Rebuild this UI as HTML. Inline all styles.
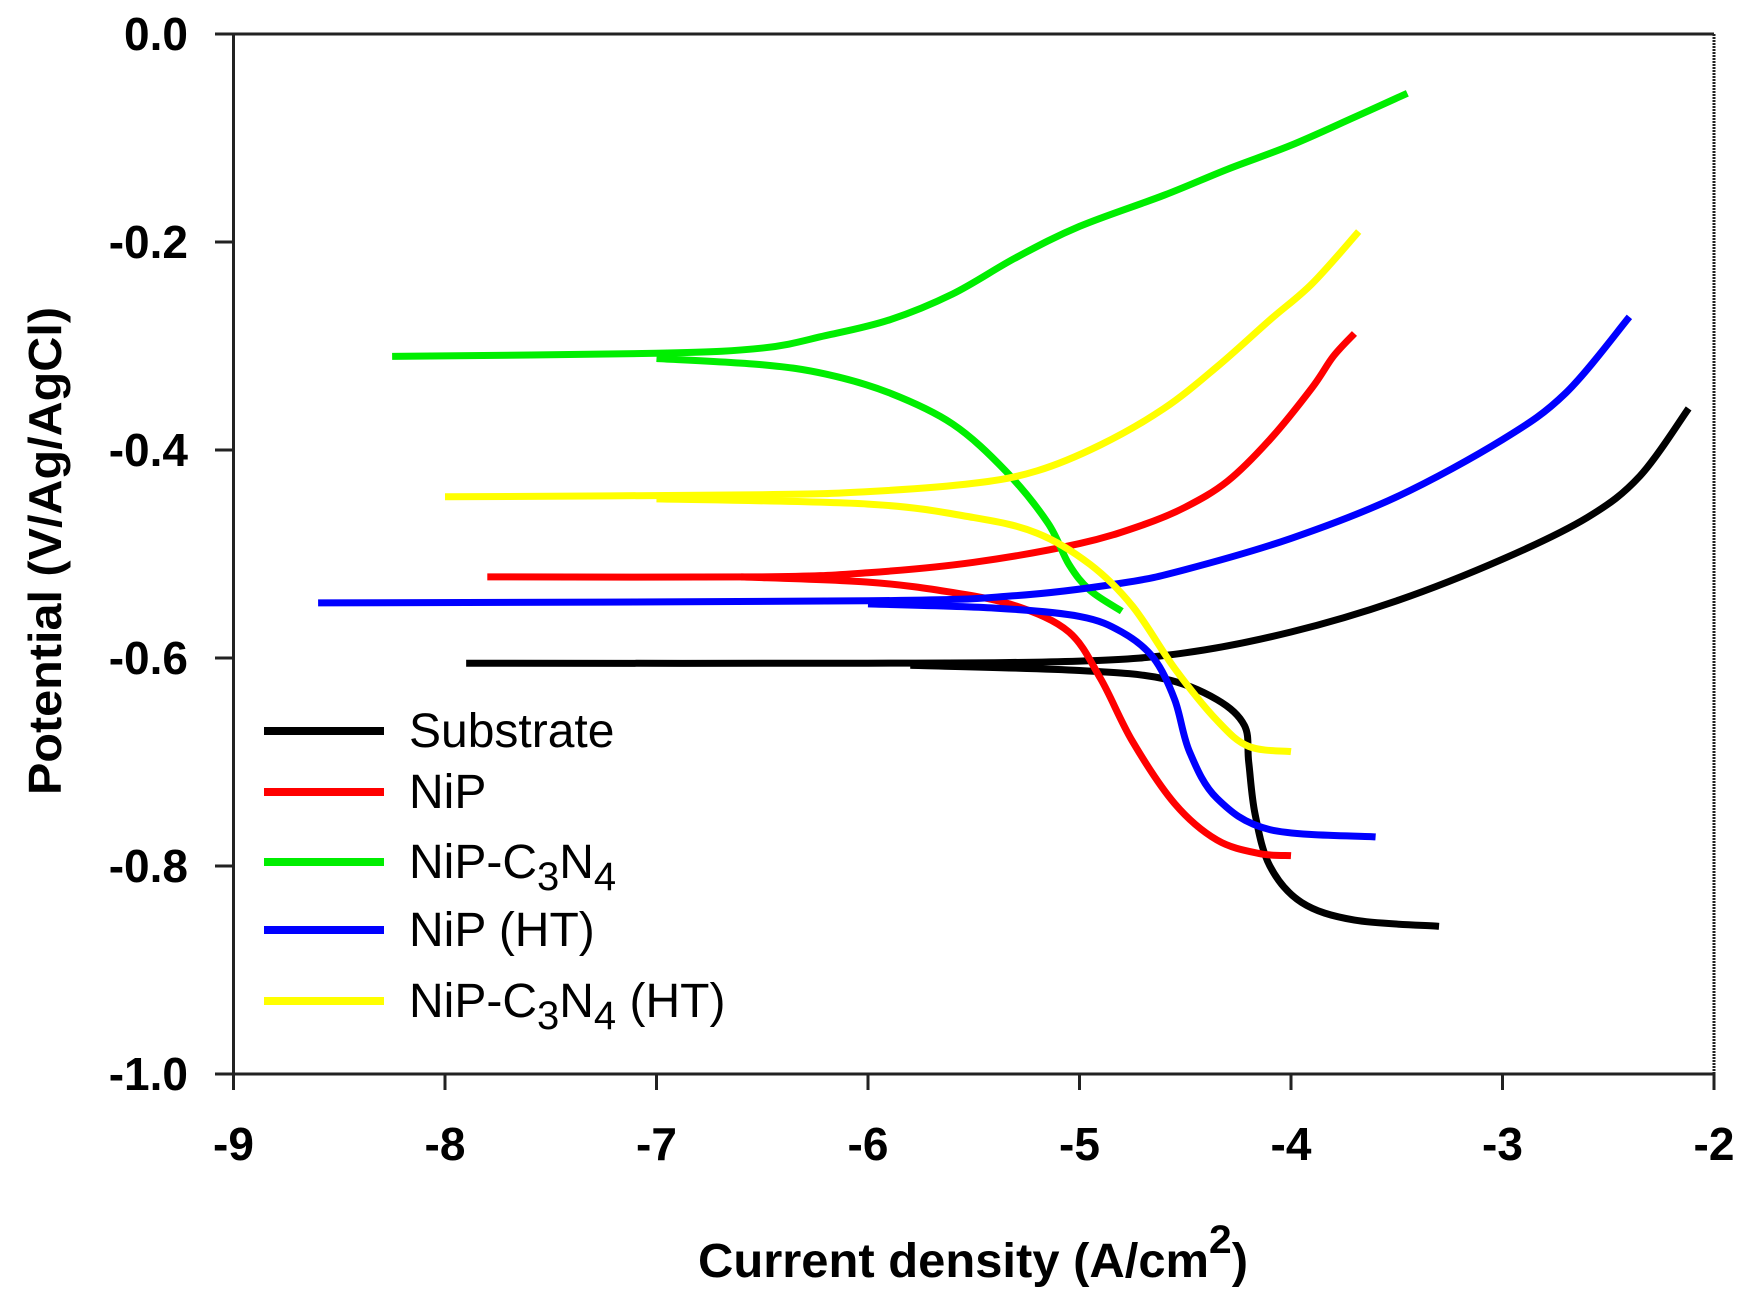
<!DOCTYPE html>
<html><head><meta charset="utf-8"><style>
html,body{margin:0;padding:0;background:#fff;}
svg{display:block;}
text{font-family:"Liberation Sans",Arial,sans-serif;}
</style></head><body>
<svg id="s" width="1755" height="1300" viewBox="0 0 1755 1300" xmlns="http://www.w3.org/2000/svg">
<rect width="1755" height="1300" fill="#fff"/>
<g id="curves" fill="none" stroke-width="7" stroke-linejoin="round" stroke-linecap="butt"></g>
<g stroke="#222" stroke-width="3" fill="none">
<line x1="233.5" y1="34" x2="1714" y2="34"/>
<line x1="233.5" y1="34" x2="233.5" y2="1074"/>
<line x1="233.5" y1="1074" x2="1714" y2="1074"/>
<line x1="1714" y1="34" x2="1714" y2="1074" stroke-dasharray="2 1"/>
</g>
<g id="ticks" stroke="#222" stroke-width="3"></g>
<g id="labels" font-weight="bold" font-size="46" fill="#000"></g>
<g stroke-width="8">
<line x1="264" y1="731" x2="384" y2="731" stroke="#000"/>
<line x1="264" y1="792" x2="384" y2="792" stroke="#ff0000"/>
<line x1="264" y1="862" x2="384" y2="862" stroke="#00ee00"/>
<line x1="264" y1="930" x2="384" y2="930" stroke="#0000ff"/>
<line x1="264" y1="1001" x2="384" y2="1001" stroke="#ffff00"/>
</g>
<g font-size="48" fill="#000">
<text x="409" y="747">Substrate</text>
<text x="409" y="808">NiP</text>
<text x="409" y="878">NiP-C<tspan font-size="40" dy="12">3</tspan><tspan dy="-12">N</tspan><tspan font-size="40" dy="12">4</tspan></text>
<text x="409" y="946">NiP (HT)</text>
<text x="409" y="1017">NiP-C<tspan font-size="40" dy="12">3</tspan><tspan dy="-12">N</tspan><tspan font-size="40" dy="12">4</tspan><tspan dy="-12"> (HT)</tspan></text>
</g>
<text x="973" y="1277" text-anchor="middle" font-weight="bold" font-size="48" textLength="550" lengthAdjust="spacingAndGlyphs">Current density (A/cm<tspan dy="-24" font-size="40">2</tspan><tspan dy="24">)</tspan></text>
<text transform="translate(61,551) rotate(-90)" text-anchor="middle" font-weight="bold" font-size="46" textLength="488" lengthAdjust="spacingAndGlyphs">Potential (V/Ag/AgCl)</text>
</svg>
<script>
var X=v=>233.5+(v+9)*211.5, Y=p=>34+(-p)*1040;
var S={
"#000":[[[-7.9,-.605],[-6,-.605],[-5,-.603],[-4.5,-.595],[-4,-.575],[-3.5,-.545],[-3,-.505],[-2.6,-.465],[-2.35,-.425],[-2.12,-.36]],
 [[-5.8,-.607],[-5,-.612],[-4.6,-.62],[-4.35,-.64],[-4.22,-.665],[-4.2,-.7],[-4.17,-.75],[-4.1,-.8],[-3.95,-.835],[-3.7,-.852],[-3.3,-.858]]],
"#ff0000":[[[-7.8,-.522],[-6.5,-.522],[-6,-.518],[-5.5,-.508],[-5,-.49],[-4.7,-.472],[-4.5,-.455],[-4.3,-.43],[-4.1,-.39],[-3.9,-.34],[-3.8,-.31],[-3.7,-.288]],
 [[-6.6,-.522],[-6,-.527],[-5.6,-.537],[-5.3,-.55],[-5.05,-.575],[-4.9,-.62],[-4.75,-.68],[-4.55,-.74],[-4.35,-.775],[-4.15,-.788],[-4,-.79]]],
"#00ee00":[[[-8.25,-.31],[-7,-.307],[-6.5,-.302],[-6.2,-.29],[-5.9,-.275],[-5.6,-.25],[-5.3,-.215],[-5,-.185],[-4.6,-.155],[-4.3,-.13],[-4,-.107],[-3.7,-.08],[-3.45,-.057]],
 [[-7,-.312],[-6.5,-.318],[-6.2,-.327],[-5.9,-.345],[-5.6,-.375],[-5.35,-.42],[-5.15,-.47],[-5.05,-.51],[-4.95,-.535],[-4.8,-.555]]],
"#0000ff":[[[-8.6,-.547],[-6,-.545],[-5.3,-.54],[-4.8,-.528],[-4.5,-.515],[-4,-.485],[-3.5,-.445],[-3,-.39],[-2.7,-.345],[-2.4,-.272]],
 [[-6,-.548],[-5.4,-.552],[-5,-.56],[-4.8,-.575],[-4.65,-.6],[-4.55,-.64],[-4.48,-.69],[-4.35,-.735],[-4.1,-.765],[-3.6,-.772]]],
"#ffff00":[[[-8,-.445],[-6.5,-.443],[-6,-.44],[-5.5,-.432],[-5.2,-.42],[-4.9,-.395],[-4.6,-.36],[-4.35,-.32],[-4.1,-.275],[-3.9,-.24],[-3.68,-.19]],
 [[-7,-.447],[-6,-.452],[-5.5,-.465],[-5.2,-.48],[-4.95,-.51],[-4.75,-.55],[-4.55,-.61],[-4.35,-.66],[-4.2,-.685],[-4,-.69]]]
};
function path(pts){pts=pts.map(p=>[X(p[0]),Y(p[1])]);var d="M"+pts[0][0]+","+pts[0][1];
for(var i=0;i<pts.length-1;i++){var p0=pts[i-1]||pts[i],p1=pts[i],p2=pts[i+1],p3=pts[i+2]||p2;
d+=" C"+(p1[0]+(p2[0]-p0[0])/6)+","+(p1[1]+(p2[1]-p0[1])/6)+" "+(p2[0]-(p3[0]-p1[0])/6)+","+(p2[1]-(p3[1]-p1[1])/6)+" "+p2[0]+","+p2[1];}return d;}
var g=document.getElementById("curves"),h="";
for(var c in S)S[c].forEach(b=>{h+='<path stroke="'+c+'" d="'+path(b)+'"/>';});
g.innerHTML=h;
var t="",l="";
for(var i=0;i<=5;i++){var y=34+i*208;t+='<line x1="215" y1="'+y+'" x2="233.5" y2="'+y+'"/>';
l+='<text x="188" y="'+(y+16)+'" text-anchor="end">'+(i==0?"0.0":"-"+(i*0.2).toFixed(1))+'</text>';}
for(var v=-9;v<=-2;v++){var x=X(v);t+='<line x1="'+x+'" y1="1074" x2="'+x+'" y2="1090"/>';
l+='<text x="'+x+'" y="1160" text-anchor="middle">'+v+'</text>';}
document.getElementById("ticks").innerHTML=t;document.getElementById("labels").innerHTML=l;
</script>
</body></html>
